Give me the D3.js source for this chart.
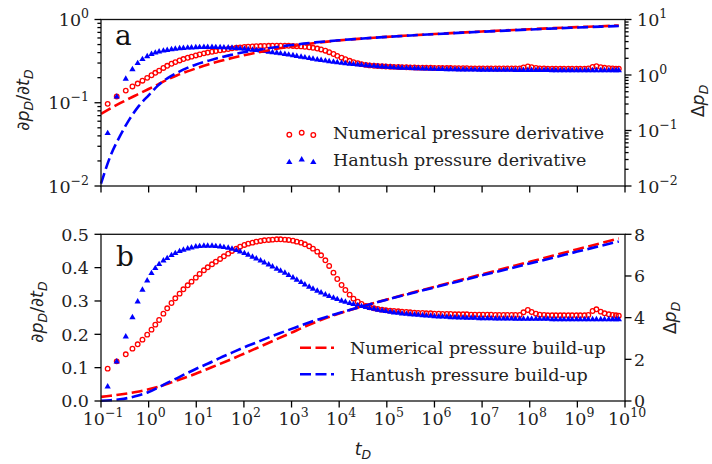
<!DOCTYPE html>
<html><head><meta charset="utf-8">
<script src="https://cdn.jsdelivr.net/npm/d3@7"></script>
<style>body{margin:0;background:#fff}svg{display:block}</style>
</head><body>
<svg id="c" width="712" height="464"></svg>
<script>
// ---- data (log10 of dimensionless time for marker series) ----
const logT = [
-0.86,-0.67,-0.48,-0.34,-0.23,-0.13,-0.03,0.06,0.14,0.22,
0.31,0.39,0.48,0.56,0.65,0.73,0.82,0.90,0.99,1.07,
1.16,1.24,1.33,1.41,1.50,1.58,1.67,1.75,1.84,1.92,
2.01,2.09,2.18,2.26,2.35,2.43,2.52,2.60,2.69,2.77,
2.86,2.94,3.03,3.11,3.20,3.28,3.37,3.45,3.54,3.62,
3.71,3.79,3.88,3.96,4.05,4.13,4.22,4.30,4.39,4.47,
4.56,4.64,4.73,4.81,4.90,4.98,5.07,5.15,5.24,5.32,
5.41,5.49,5.58,5.66,5.75,5.83,5.92,6.00,6.09,6.17,
6.26,6.34,6.43,6.51,6.60,6.68,6.77,6.85,6.94,7.02,
7.11,7.19,7.28,7.36,7.45,7.53,7.62,7.70,7.79,7.87,
7.96,8.04,8.13,8.21,8.30,8.38,8.47,8.55,8.64,8.72,
8.81,8.89,8.98,9.06,9.15,9.23,9.32,9.40,9.49,9.57,
9.66,9.74,9.81,9.87];
// Numerical pressure derivative
const numDeriv = [
0.097,0.119,0.140,0.157,0.170,0.184,0.199,0.214,0.229,0.243,
0.262,0.278,0.294,0.308,0.322,0.335,0.347,0.358,0.370,0.381,
0.392,0.401,0.410,0.418,0.426,0.434,0.442,0.450,0.457,0.463,
0.468,0.472,0.475,0.478,0.480,0.482,0.483,0.484,0.485,0.485,
0.484,0.483,0.481,0.478,0.475,0.470,0.464,0.457,0.448,0.437,
0.422,0.405,0.385,0.366,0.348,0.333,0.319,0.307,0.298,0.291,
0.285,0.281,0.278,0.276,0.274,0.272,0.271,0.270,0.269,0.268,
0.267,0.266,0.265,0.264,0.264,0.263,0.263,0.262,0.262,0.261,
0.261,0.261,0.260,0.260,0.260,0.260,0.259,0.259,0.259,0.259,
0.259,0.259,0.258,0.258,0.258,0.258,0.258,0.258,0.258,0.266,
0.273,0.267,0.262,0.259,0.258,0.257,0.257,0.257,0.257,0.257,
0.257,0.257,0.257,0.257,0.257,0.258,0.270,0.275,0.268,0.263,
0.260,0.258,0.257,0.256];
// Hantush pressure derivative
const hanDeriv = [
0.043,0.118,0.193,0.251,0.298,0.333,0.361,0.383,0.398,0.410,
0.421,0.428,0.437,0.443,0.449,0.453,0.457,0.460,0.463,0.464,
0.465,0.465,0.465,0.464,0.463,0.461,0.459,0.456,0.452,0.448,
0.443,0.438,0.432,0.427,0.421,0.415,0.409,0.403,0.396,0.390,
0.384,0.377,0.370,0.363,0.356,0.349,0.342,0.336,0.330,0.325,
0.319,0.314,0.309,0.305,0.300,0.297,0.293,0.290,0.287,0.284,
0.281,0.278,0.276,0.273,0.271,0.269,0.267,0.265,0.264,0.262,
0.261,0.260,0.259,0.258,0.257,0.256,0.255,0.254,0.253,0.253,
0.252,0.251,0.251,0.250,0.250,0.249,0.249,0.249,0.248,0.248,
0.248,0.248,0.247,0.247,0.247,0.247,0.247,0.246,0.246,0.246,
0.246,0.246,0.246,0.246,0.246,0.246,0.245,0.245,0.245,0.245,
0.245,0.245,0.245,0.245,0.245,0.245,0.245,0.245,0.245,0.245,
0.245,0.245,0.245,0.245];
// build-up curves (log10 t, Δp)
const lineLogT = [-1.0,-0.8,-0.6,-0.4,-0.2,0.0,0.2,0.4,0.6,0.8,1.0,1.25,1.5,1.75,2.0,2.25,2.5,2.75,3.0,3.25,3.5,3.75,4.0,4.25,4.5,5.0,5.5,6.0,6.5,7.0,7.5,8.0,8.5,9.0,9.5,9.87];
const numBuild = [0.20,0.25,0.31,0.38,0.46,0.56,0.68,0.83,0.99,1.15,1.32,1.55,1.78,2.02,2.27,2.52,2.77,3.03,3.28,3.54,3.78,4.00,4.20,4.38,4.55,4.87,5.18,5.48,5.78,6.08,6.38,6.68,6.98,7.28,7.58,7.80];
const hanBuild = [0.011,0.035,0.08,0.16,0.28,0.43,0.65,0.88,1.10,1.33,1.55,1.80,2.07,2.32,2.57,2.80,3.03,3.25,3.46,3.67,3.87,4.05,4.22,4.39,4.55,4.86,5.16,5.45,5.74,6.03,6.31,6.60,6.88,7.17,7.45,7.66];
// tick labels
const xTickExp = [-1,0,1,2,3,4,5,6,7,8,9,10];
const yaLeftExp = [-2,-1,0];
const yaRightExp = [-2,-1,0,1];
const ybLeftTicks = [0.0,0.1,0.2,0.3,0.4,0.5];
const ybRightTicks = [0,2,4,6,8];
const legendA = ["Numerical pressure derivative","Hantush pressure derivative"];
const legendB = ["Numerical pressure build-up","Hantush pressure build-up"];

// ---- layout ----
const svg = d3.select("#c");
const XL = 101, XR = 625;
const A = {top:19.5, bot:186}, B = {top:234.3, bot:401};
const SERIF = "'DejaVu Serif', serif", SANS = "'DejaVu Sans', sans-serif";
const RED = "#ff0000", BLUE = "#0000ff";
const FS = 17.5, SUP = 12.5, LFS = 17.5;
const CR = 2.3, CW = 1.3, TRI = 17;

const x = d3.scaleLog().domain([0.1, 1e10]).range([XL, XR]);
const tD = logT.map(v => Math.pow(10, v));
const tLine = lineLogT.map(v => Math.pow(10, v));
const yaL = d3.scaleLog().domain([1e-2, 1]).range([A.bot, A.top]);
const yaR = d3.scaleLog().domain([1e-2, 10]).range([A.bot, A.top]);
const ybL = d3.scaleLinear().domain([0, 0.5]).range([B.bot, B.top]);
const ybR = d3.scaleLinear().domain([0, 8]).range([B.bot, B.top]);

function drawData(yL, yR) {
  const g = svg.append("g");
  g.append("g").selectAll("circle").data(numDeriv).join("circle")
    .attr("cx", (d, i) => x(tD[i])).attr("cy", d => yL(d)).attr("r", CR)
    .attr("fill", "none").attr("stroke", RED).attr("stroke-width", CW);
  const tri = d3.symbol().type(d3.symbolTriangle).size(TRI);
  g.append("g").selectAll("path").data(hanDeriv).join("path")
    .attr("d", tri).attr("fill", BLUE)
    .attr("transform", (d, i) => `translate(${x(tD[i])},${yL(d)})`);
  const line = d3.line().x((d, i) => x(tLine[i])).y(d => yR(d)).curve(d3.curveMonotoneX);
  [[numBuild, RED], [hanBuild, BLUE]].forEach(([arr, c]) => {
    g.append("path").datum(arr).attr("d", line).attr("fill", "none")
      .attr("stroke", c).attr("stroke-width", 2.6).attr("stroke-dasharray", "11,4.5");
  });
}

function styleAxis(sel) {
  sel.select(".domain").remove();
  sel.selectAll("line").attr("stroke", "#000").attr("stroke-width", 1.3);
}

function powLabel(g, px, py, exp, anchor) {
  const t = g.append("text").attr("x", px).attr("y", py).attr("text-anchor", anchor)
    .attr("font-family", SERIF).attr("font-size", FS).attr("fill", "#222");
  t.append("tspan").text("10");
  t.append("tspan").attr("dy", -8).attr("font-size", SUP)
    .text(exp < 0 ? "\u2212" + (-exp) : String(exp));
}

function frame(p) {
  svg.append("rect").attr("x", XL).attr("y", p.top).attr("width", XR - XL)
    .attr("height", p.bot - p.top).attr("fill", "none").attr("stroke", "#111").attr("stroke-width", 1.3);
}

function xAxis(p, withLabels) {
  svg.append("g").attr("transform", `translate(0,${p.bot})`)
    .call(d3.axisBottom(x).tickValues(xTickExp.map(e => Math.pow(10, e))).tickSize(6.5).tickFormat("").offset(0))
    .call(styleAxis);
  if (withLabels) xTickExp.forEach(e => powLabel(svg, x(Math.pow(10, e)) + 2, 425, e, "middle"));
}

// ---- panel a ----
drawData(yaL, yaR);
frame(A);
xAxis(A, false);
svg.append("g").attr("transform", `translate(${XL},0)`)
  .call(d3.axisLeft(yaL).tickValues(yaLeftExp.map(e => Math.pow(10, e))).tickSize(6.5).tickFormat("").offset(0)).call(styleAxis);
svg.append("g").attr("transform", `translate(${XL},0)`)
  .call(d3.axisLeft(yaL).tickValues(yaL.ticks().filter(v => Math.abs(Math.log10(v) % 1) > 1e-6)).tickSize(3.6).tickFormat("").offset(0)).call(styleAxis);
svg.append("g").attr("transform", `translate(${XR},0)`)
  .call(d3.axisRight(yaR).tickValues(yaRightExp.map(e => Math.pow(10, e))).tickSize(6.5).tickFormat("").offset(0)).call(styleAxis);
svg.append("g").attr("transform", `translate(${XR},0)`)
  .call(d3.axisRight(yaR).tickValues(yaR.ticks().filter(v => Math.abs(Math.log10(v) % 1) > 1e-6)).tickSize(3.6).tickFormat("").offset(0)).call(styleAxis);
yaLeftExp.forEach(e => powLabel(svg, XL - 12, yaL(Math.pow(10, e)) + 6.5, e, "end"));
yaRightExp.forEach(e => powLabel(svg, XR + 12, yaR(Math.pow(10, e)) + 6.5, e, "start"));

// legend a
const la = svg.append("g");
const circOff = [134.7, 132.7, 135], triOff = [162.3, 159.7, 162.3], legX = [289.3, 301.7, 313.3];
legX.forEach((lx, k) => {
  la.append("circle").attr("cx", lx).attr("cy", circOff[k]).attr("r", CR)
    .attr("fill", "none").attr("stroke", RED).attr("stroke-width", CW);
  la.append("path").attr("d", d3.symbol().type(d3.symbolTriangle).size(TRI)())
    .attr("transform", `translate(${lx},${triOff[k]})`).attr("fill", BLUE);
});
legendA.forEach((s, k) => la.append("text").attr("x", 333).attr("y", 139.3 + 26.8 * k)
  .attr("font-family", SERIF).attr("font-size", LFS).attr("fill", "#222").text(s));
svg.append("text").attr("x", 115).attr("y", 45).attr("font-family", SERIF).attr("font-size", 28).attr("fill", "#111").text("a");

// ---- panel b ----
drawData(ybL, ybR);
frame(B);
xAxis(B, true);
svg.append("g").attr("transform", `translate(${XL},0)`)
  .call(d3.axisLeft(ybL).tickValues(ybLeftTicks).tickSize(6.5).tickFormat("").offset(0)).call(styleAxis);
svg.append("g").attr("transform", `translate(${XR},0)`)
  .call(d3.axisRight(ybR).tickValues(ybRightTicks).tickSize(6.5).tickFormat("").offset(0)).call(styleAxis);
ybLeftTicks.forEach(v => svg.append("text").attr("x", XL - 12).attr("y", ybL(v) + 6.3).attr("text-anchor", "end")
  .attr("font-family", SERIF).attr("font-size", FS).attr("fill", "#222").text(d3.format(".1f")(v)));
ybRightTicks.forEach(v => svg.append("text").attr("x", XR + 9).attr("y", ybR(v) + 6.3).attr("text-anchor", "start")
  .attr("font-family", SERIF).attr("font-size", FS).attr("fill", "#222").text(String(v)));

const lb = svg.append("g");
[[RED, 347.7], [BLUE, 374.3]].forEach(([c, yy]) => lb.append("line").attr("x1", 300).attr("x2", 334)
  .attr("y1", yy).attr("y2", yy).attr("stroke", c).attr("stroke-width", 2.6).attr("stroke-dasharray", "11,4.5"));
legendB.forEach((s, k) => lb.append("text").attr("x", 350).attr("y", 354.3 + 26.6 * k)
  .attr("font-family", SERIF).attr("font-size", LFS).attr("fill", "#222").text(s));
svg.append("text").attr("x", 116).attr("y", 266).attr("font-family", SERIF).attr("font-size", 28).attr("fill", "#111").text("b");

// ---- axis titles ----
function derivLabel(cx, cy) {
  const t = svg.append("text").attr("transform", `translate(${cx},${cy}) rotate(-90)`)
    .attr("text-anchor", "middle").attr("font-family", SANS).attr("font-size", FS).attr("fill", "#222");
  t.append("tspan").text("\u2202");
  t.append("tspan").attr("font-style", "italic").text("p");
  t.append("tspan").attr("font-style", "italic").attr("font-size", SUP).attr("dy", 4).text("D");
  t.append("tspan").attr("dy", -4).text("/\u2202");
  t.append("tspan").attr("font-style", "italic").text("t");
  t.append("tspan").attr("font-style", "italic").attr("font-size", SUP).attr("dy", 4).text("D");
}
function dpLabel(cx, cy) {
  const t = svg.append("text").attr("transform", `translate(${cx},${cy}) rotate(-90)`)
    .attr("text-anchor", "middle").attr("font-family", SANS).attr("font-size", FS).attr("fill", "#222");
  t.append("tspan").text("\u0394");
  t.append("tspan").attr("font-style", "italic").text("p");
  t.append("tspan").attr("font-style", "italic").attr("font-size", SUP).attr("dy", 4).text("D");
}
derivLabel(29, 100);
derivLabel(43, 312);
dpLabel(704, 101);
dpLabel(676, 318);
const xt = svg.append("text").attr("x", 363).attr("y", 455).attr("text-anchor", "middle")
  .attr("font-family", SANS).attr("font-size", FS).attr("fill", "#222");
xt.append("tspan").attr("font-style", "italic").text("t");
xt.append("tspan").attr("font-style", "italic").attr("font-size", SUP).attr("dy", 4).text("D");
</script>
</body></html>
